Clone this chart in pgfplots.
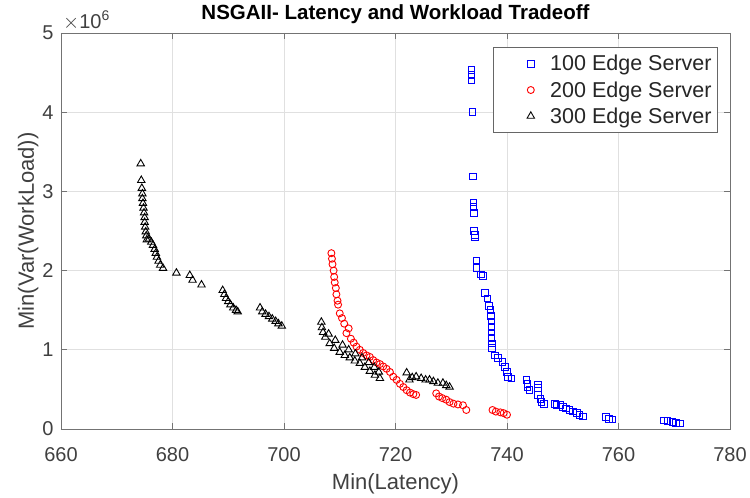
\documentclass[border=0pt]{standalone}
\usepackage{pgfplots}
\pgfplotsset{compat=1.18}
\usepackage{fontspec}
\setmainfont{Liberation Sans}
\definecolor{axgray}{gray}{0.45}
\definecolor{txtgray}{gray}{0.25}
\pgfplotsset{mylegimg/.style={legend image code/.code={\draw[##1] plot coordinates {(33pt,0pt)}; \path (0pt,0pt) (50pt,0pt);}}}
\begin{document}
\begin{tikzpicture}
\begin{axis}[
  scale only axis, width=669pt, height=396pt,
  xmin=660, xmax=780, ymin=0, ymax=5,
  xtick={660,680,...,780}, ytick={0,1,...,5},
  font=\fontsize{20}{24}\selectfont,
  /pgf/number format/assume math mode=true,
  tick align=inside, tick pos=both, major tick length=6pt,
  axis line style={axgray, line width=0.8pt},
  tick style={axgray, line width=0.8pt},
  grid=major, grid style={black!12, line width=0.6pt},
  ticklabel style={txtgray},
  xticklabel style={yshift=-15pt},
  yticklabel style={xshift=-4pt},
  xlabel={Min(Latency)}, ylabel={Min(Var(WorkLoad))},
  label style={txtgray, font=\fontsize{22}{26}\selectfont},
  xlabel shift=5pt, ylabel shift=-3pt,
  title={NSGAII- Latency and Workload Tradeoff},
  title style={font=\fontsize{20.5}{24}\selectfont\bfseries},
  legend style={at={(rel axis cs:1,1)}, anchor=north east, xshift=-12pt, yshift=-14pt,
    draw=black!60, line width=0.8pt, font=\fontsize{21.5}{26}\selectfont, text=black!85,
    inner xsep=4pt, inner ysep=6pt, row sep=5pt, nodes={inner sep=2pt}},
  legend cell align=left,
  clip=false,
]
\addplot[only marks, mylegimg, mark=square, mark size=3.3pt, blue, line width=0.9pt] coordinates {
(733.6,4.53) (733.6,4.47) (733.6,4.40) (733.8,4.00) (733.9,3.19)
(734.0,2.86) (734.0,2.80) (734.1,2.73) (734.1,2.50) (734.2,2.45) (734.3,2.42)
(734.5,2.13) (734.5,2.03) (735.3,1.95) (735.7,1.93) (736.0,1.72) (736.5,1.65)
(736.8,1.55) (737.0,1.50) (737.1,1.43) (737.2,1.36) (737.2,1.29) (737.2,1.22)
(737.2,1.15) (737.3,1.08) (737.3,1.02) (737.8,0.93) (738.4,0.90) (739.2,0.85)
(739.6,0.78) (740.0,0.72) (740.2,0.66) (740.8,0.64) (743.5,0.62) (743.7,0.57)
(743.7,0.53) (744.0,0.49) (745.5,0.56) (745.5,0.52) (745.6,0.43) (746.0,0.38)
(746.2,0.34) (746.6,0.32) (748.6,0.32) (748.9,0.30) (749.6,0.30) (750.0,0.28)
(750.6,0.26) (751.2,0.24) (751.8,0.22) (752.5,0.20) (753.0,0.18) (753.6,0.16)
(757.8,0.15) (758.3,0.13) (758.9,0.12) (768.2,0.11) (768.8,0.10) (769.7,0.09)
(770.3,0.08) (771.0,0.07)
};
\addlegendentry{100 Edge Server}
\addplot[only marks, mylegimg, mark=o, mark size=3.5pt, red, line width=0.9pt] coordinates {
(708.5,2.22) (708.6,2.15) (708.7,2.08) (708.9,2.00) (709.0,1.92) (709.1,1.85)
(709.3,1.78) (709.4,1.70) (709.6,1.62) (709.7,1.57) (710.0,1.46) (710.4,1.40)
(710.8,1.33) (711.2,1.21) (711.6,1.27) (712.0,1.14) (712.5,1.09) (713.0,1.04)
(713.6,1.00) (714.2,0.96) (714.8,0.93) (715.4,0.91) (716.0,0.87) (716.6,0.84)
(717.2,0.82) (717.8,0.79) (718.4,0.76) (719.0,0.72) (719.6,0.66) (720.2,0.62)
(720.8,0.57) (721.4,0.53) (722.0,0.49) (722.6,0.46) (723.2,0.44) (723.7,0.43)
(727.3,0.45) (727.8,0.41) (728.4,0.39) (729.1,0.37) (729.7,0.34) (730.4,0.32)
(731.2,0.31) (732.1,0.30) (732.7,0.24) (737.4,0.24) (738.0,0.22) (738.8,0.21)
(739.4,0.20) (740.0,0.18)
};
\addlegendentry{200 Edge Server}
\addplot[only marks, mylegimg, mark=triangle, mark size=4.3pt, black, line width=0.9pt] coordinates {
(674.3,3.35) (674.4,3.14) (674.5,3.04) (674.6,2.97) (674.6,2.91) (674.7,2.85)
(674.8,2.79) (674.9,2.73) (675.0,2.67) (675.0,2.61) (675.1,2.55) (675.2,2.49)
(675.3,2.44) (675.4,2.39) (675.8,2.40) (676.2,2.36) (676.5,2.32) (676.8,2.27)
(677.0,2.22) (677.2,2.17) (677.5,2.12) (677.8,2.07) (678.3,2.03) (680.7,1.97)
(683.1,1.94) (683.6,1.88) (685.2,1.82) (689.0,1.75) (689.3,1.70) (689.6,1.65)
(690.0,1.61) (690.4,1.57) (690.9,1.53) (691.4,1.50) (691.7,1.48) (695.7,1.53)
(696.1,1.48) (696.7,1.45) (697.3,1.42) (697.9,1.39) (698.5,1.36) (699.0,1.33)
(699.6,1.30)
(706.7,1.35) (706.8,1.28) (707.0,1.22) (707.4,1.16) (708.2,1.08) (709.0,1.02)
(710.0,0.97) (710.9,0.93) (711.8,0.90) (712.7,0.86) (713.6,0.83) (714.5,0.78)
(715.4,0.73) (716.3,0.68) (717.2,0.64) (708.0,1.20) (709.2,1.12) (710.5,1.06)
(711.6,1.00) (712.8,0.95) (714.0,0.90) (715.2,0.84) (716.2,0.78) (717.0,0.72)
(722.0,0.71) (722.5,0.62) (723.0,0.65) (723.7,0.66) (724.6,0.64) (725.4,0.62)
(726.1,0.62) (726.8,0.60) (727.6,0.58) (728.5,0.58) (729.1,0.55) (729.7,0.53)
};
\addlegendentry{300 Edge Server}
\node[anchor=south west, txtgray, inner sep=0pt, font=\fontsize{20}{24}\selectfont] at ([xshift=2pt,yshift=3pt]rel axis cs:0,1) {$\times$10\textsuperscript{6}};
\end{axis}
\pgfresetboundingbox
\path ([xshift=-61pt,yshift=-69pt]current axis.south west) rectangle ([xshift=20pt,yshift=33pt]current axis.north east);
\end{tikzpicture}
\end{document}
